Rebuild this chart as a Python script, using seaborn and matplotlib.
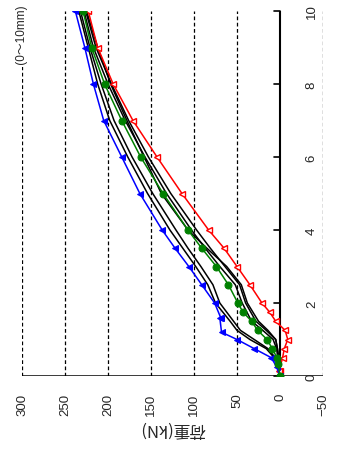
import numpy as np
import pandas as pd
import seaborn as sns
import matplotlib.pyplot as plt

# displacement (mm) / load (kN)
red_disp = [0, 0.15, 0.3, 0.5, 0.75, 1.0, 1.25, 1.5, 1.75, 2.0, 2.5, 3.0, 3.5, 4.0, 5.0, 6.0, 7.0, 8.0, 9.0, 10.0]
red_load = [0, 1, 0, -3, -5, -9, -6, 5, 12, 21, 35, 50, 65, 83, 114, 143, 171, 194, 212, 223]

blue_disp = [0, 0.25, 0.5, 0.75, 1.0, 1.2, 1.4, 1.6, 1.8, 2.0, 2.5, 3.0, 3.5, 4.0, 5.0, 6.0, 7.0, 8.0, 9.0, 10.0]
blue_load = [0, 4, 10, 30, 50, 68, 70, 69, 70, 76, 91, 106, 122, 137, 163, 184, 205, 217, 227, 238]

green_disp = [0, 0.33, 0.5, 0.75, 1.0, 1.25, 1.5, 1.75, 2.0, 2.5, 3.0, 3.5, 4.0, 5.0, 6.0, 7.0, 8.0, 9.0, 10.0]
green_load = [0, 2, 3.5, 9, 15, 26, 33, 43, 49, 60, 74, 91, 107, 136, 162, 184, 204, 219, 229]

black_disp = [0, 0.4, 0.75, 1.0, 1.25, 1.5, 2.0, 2.5, 3.0, 3.5, 4.0, 5.0, 6.0, 7.0, 8.0, 9.0, 10.0]
black_loads = [
    [0, 3, 16, 35, 50, 58, 75, 84, 98, 113, 128, 154, 177, 198, 212, 223, 234],
    [0, 2, 14, 30, 46, 54, 70, 78, 92, 107, 121, 148, 172, 193, 208, 221, 232],
    [0, 2, 4, 8, 20, 33, 44, 52, 70, 87, 103, 132, 157, 180, 200, 217, 228],
    [0, 1, 3, 5, 16, 28, 40, 47, 64, 81, 97, 127, 153, 176, 196, 214, 226],
    [0, 1, 3, 5, 14, 25, 38, 45, 62, 85, 107, 138, 158, 178, 197, 212, 225],
]

load_ticks = [300, 250, 200, 150, 100, 50, 0, -50]
load_labels = ["300", "250", "200", "150", "100", "50", "0", "\u221250"]
disp_ticks = [0, 2, 4, 6, 8, 10]

sns.set_style("white")
plt.rcParams["font.family"] = ["Liberation Sans", "DejaVu Sans"]
cjk = ["Noto Sans CJK JP", "DejaVu Sans"]

fig = plt.figure(figsize=(3.38, 4.52), dpi=100)
ax = fig.add_axes([22 / 338, 75 / 452, 301 / 338, 365 / 452])

# grid lines
for v in [300, 250, 200, 150, 100, 50, -50]:
    ax.axvline(v, color="black", lw=0.9, ls=(0, (3, 2)), zorder=1)
ax.axvline(0, color="black", lw=1.5, zorder=1)
ax.axhline(0, color="black", lw=1.8, zorder=1)

for ld in black_loads:
    sns.lineplot(x=ld, y=black_disp, sort=False, color="black", lw=1.1, ax=ax, zorder=3)

sns.lineplot(x=red_load, y=red_disp, sort=False, color="red", lw=1.1, marker="<",
             markersize=5, markerfacecolor="white", markeredgecolor="red", markeredgewidth=1,
             ax=ax, zorder=4)
sns.lineplot(x=blue_load, y=blue_disp, sort=False, color="blue", lw=1.1, marker="<",
             markersize=5, markerfacecolor="blue", markeredgecolor="blue", ax=ax, zorder=4)
sns.lineplot(x=green_load, y=green_disp, sort=False, color="green", lw=1.1, marker="o",
             markersize=5, markerfacecolor="green", markeredgecolor="green", ax=ax, zorder=5)

ax.set_xlim(300, -50)
ax.set_ylim(0, 10)
for s in ax.spines.values():
    s.set_visible(False)

ax.set_xticks(load_ticks)
ax.set_xticklabels(load_labels, rotation=90, fontsize=9.5)
ax.tick_params(axis="x", length=0, pad=12)
ax.set_yticks([])
ax.set_xlabel("荷重(kN)", rotation=180, fontsize=12, family=cjk, labelpad=3)

# displacement axis along the zero-load line
for t in disp_ticks:
    ax.plot([0, 7], [t, t], color="black", lw=1.2, clip_on=False, zorder=2)
    ax.text(-37, t, str(t), rotation=90, ha="center", va="center", fontsize=9.5)

ax.text(300, 9.37, " (0～10mm) ", rotation=90, rotation_mode="anchor", ha="center", va="center",
        fontsize=8.5, family=["Liberation Sans", "Noto Sans CJK JP"],
        bbox=dict(facecolor="white", edgecolor="none", pad=0.3), clip_on=False, zorder=6)

fig.savefig("out.png", dpi=100)
